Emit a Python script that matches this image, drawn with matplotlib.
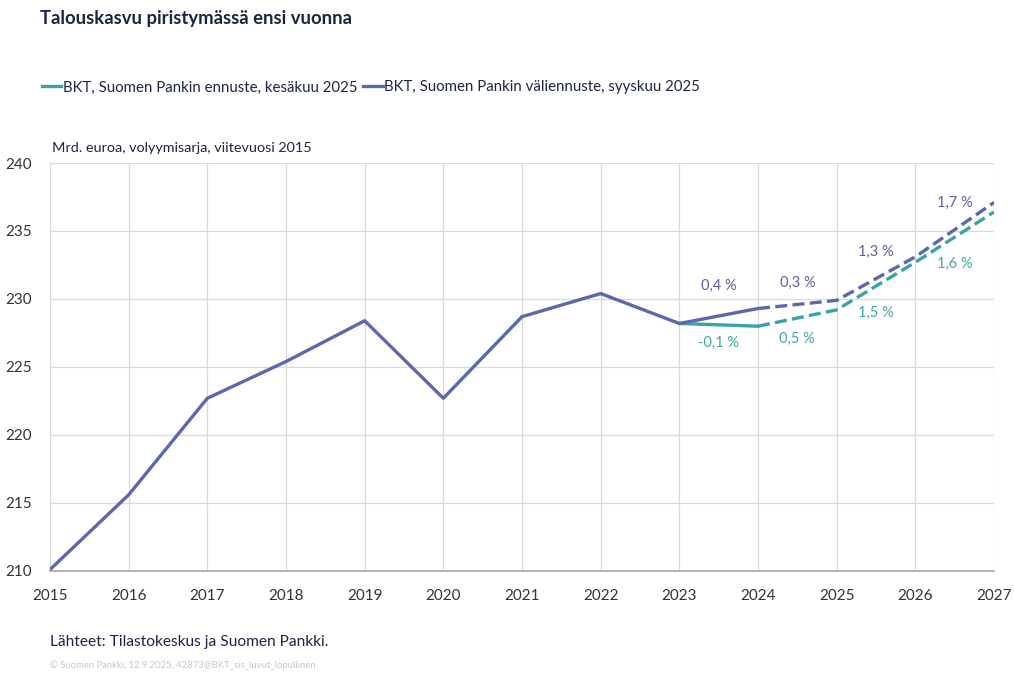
import numpy as np
import matplotlib.pyplot as plt

plt.rcParams['font.family'] = ['Lato', 'DejaVu Sans']

years = [2015, 2016, 2017, 2018, 2019, 2020, 2021, 2022, 2023, 2024, 2025, 2026, 2027]
# syyskuu 2025 (väliennuste)
sep_gdp = [210.1, 215.6, 222.7, 225.4, 228.4, 222.7, 228.7, 230.4, 228.2, 229.3, 229.9, 233.1, 237.1]
# kesäkuu 2025 (ennuste), vain 2023 alkaen
jun_years = [2023, 2024, 2025, 2026, 2027]
jun_gdp = [228.2, 228.0, 229.2, 232.7, 236.4]

sep_labels = ['0,4 %', '0,3 %', '1,3 %', '1,7 %']
sep_label_y = [231.0, 231.2, 233.5, 237.1]
jun_labels = ['-0,1 %', '0,5 %', '1,5 %', '1,6 %']
jun_label_y = [226.8, 227.1, 229.0, 232.6]
label_x = [2023.5, 2024.5, 2025.5, 2026.5]

blue = '#5B67AE'
teal = '#3AA3A3'
blue_txt = '#5E5E9E'
teal_txt = '#40A8A4'
navy = '#1C2541'
grid_c = '#D9D9D9'

fig = plt.figure(figsize=(10.14, 6.73), dpi=100)
ax = fig.add_axes([0.0493, 0.1516, 0.9310, 0.6062])

ax.plot(jun_years[:2], jun_gdp[:2], color=teal, lw=2.4, solid_capstyle='round')
ax.plot(jun_years[1:], jun_gdp[1:], color=teal, lw=2.4, ls=(0, (3.6, 1.6)))
ax.plot(years[:10], sep_gdp[:10], color=blue, lw=2.4, solid_capstyle='round')
ax.plot(years[9:], sep_gdp[9:], color=blue, lw=2.4, ls=(0, (3.6, 1.6)))

for x, y, t in zip(label_x, sep_label_y, sep_labels):
    ax.text(x, y, t, color=blue_txt, fontsize=10.5, ha='center', va='center')
for x, y, t in zip(label_x, jun_label_y, jun_labels):
    ax.text(x, y, t, color=teal_txt, fontsize=10.5, ha='center', va='center')

ax.set_xlim(2015, 2027)
ax.set_ylim(210, 240)
ax.set_xticks(years)
ax.set_yticks(np.arange(210, 241, 5))
ax.grid(True, color=grid_c, lw=0.9)
ax.set_axisbelow(True)
for s in ['top', 'right', 'left']:
    ax.spines[s].set_visible(False)
ax.spines['bottom'].set_color('#A6A6A6')
ax.spines['bottom'].set_linewidth(1.2)
ax.tick_params(length=0, labelsize=11, colors='#333333')
ax.tick_params(axis='x', pad=13)
ax.tick_params(axis='y', pad=13)

fig.text(0.039, 0.973, 'Talouskasvu piristymässä ensi vuonna', fontsize=13.3,
         fontweight='bold', color=navy, va='center')
fig.text(0.051, 0.780, 'Mrd. euroa, volyymisarja, viitevuosi 2015', fontsize=10.4,
         color=navy, va='center')

h1, = ax.plot([], [], color=teal, lw=2.4, label='BKT, Suomen Pankin ennuste, kesäkuu 2025')
h2, = ax.plot([], [], color=blue, lw=2.4, label='BKT, Suomen Pankin väliennuste, syyskuu 2025')
fig.legend(handles=[h1, h2], loc='center left', bbox_to_anchor=(0.028, 0.870), ncol=2,
           frameon=False, fontsize=10.8, handlelength=1.3, handletextpad=0.1,
           columnspacing=0.4, labelcolor=navy)

fig.text(0.049, 0.046, 'Lähteet: Tilastokeskus ja Suomen Pankki.', fontsize=11.2,
         color=navy, va='center')
fig.text(0.049, 0.012, '© Suomen Pankki, 12.9.2025, 42873@BKT_sis_luvut_lopullinen',
         fontsize=6.8, color='#C8C8C8', va='center')

fig.savefig('out.png', dpi=100, facecolor='white')
